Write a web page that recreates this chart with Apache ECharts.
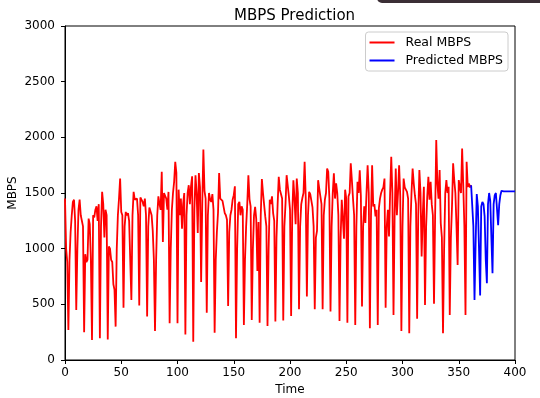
<!DOCTYPE html>
<html>
<head>
<meta charset="utf-8">
<script src="https://cdn.jsdelivr.net/npm/echarts@6/dist/echarts.min.js"></script>
<style>
  html, body { margin: 0; padding: 0; background: #fff; }
  #chart { width: 540px; height: 398px; }
</style>
</head>
<body>
<div id="chart"></div>
<script>
// daily values, day 0 onwards
var realMbps = [
  1450, 1000, 880, 270, 900, 1150, 1300, 1420, 1440, 1250, 450,
  1000, 1350, 1440, 1300, 1290, 1200, 250,
  950, 880, 900, 1270, 1220, 900, 180,
  1300, 1280, 1350, 1380, 1250, 1400, 195,
  1200, 1510, 1400, 1100, 1350, 1300, 185,
  1020, 1000, 900, 880, 680, 630, 300,
  1000, 1300, 1450, 1630, 1330, 1300, 470,
  1200, 1330, 1300, 1320, 1250, 1240, 540,
  1300, 1510, 1440, 1430, 1450, 1300, 490,
  1460, 1470, 1420, 1380, 1450, 1300, 390,
  1200, 1370, 1360, 1300, 1160, 900, 260,
  900, 1300, 1470, 1400, 1350, 1690, 1060,
  1500, 1500, 1450, 1350, 1510, 330,
  1000, 1350, 1500, 1600, 1780, 1680, 330,
  1530, 1300, 1450, 1180, 1400, 1500, 230,
  1300, 1500, 1570, 1400, 1560, 1650, 165,
  1350, 1660, 1500, 1140, 1680, 1550, 700,
  1400, 1890, 1520, 1450, 425,
  1300, 1500, 1440, 1420, 1490, 1350, 245,
  900, 1150, 1320, 1680, 1450, 1440, 1430, 1440, 1320, 1300, 1260, 485,
  1150, 1300, 1350, 1440, 1480, 1560, 195,
  1000, 1400, 1420, 1300, 1380, 1350, 315,
  900, 1200, 1400, 1660, 1445, 1380, 360,
  1000, 1300, 1375, 1265, 800, 1240, 335,
  1300, 1625, 1500, 1510, 1290, 1200, 305,
  1000, 1440, 1400, 1470, 1320, 1250, 345,
  1100, 1400, 1645, 1530, 1540, 1450, 355,
  1200, 1400, 1660, 1645, 1470, 1350, 395,
  1300, 1615, 1450, 1220, 1630, 1500, 455,
  1200, 1400, 1455, 1500, 1780, 1450, 570,
  1300, 1510, 1490, 1480, 1370, 1200, 455,
  1100, 1160, 1615, 1540, 1540, 1400, 455,
  1300, 1440, 1500, 1720, 1690, 1450, 435,
  1200, 1500, 1676, 1450, 1586, 1500, 1300, 350,
  1100, 1440, 1455, 1090, 1530, 1450, 335,
  1470, 1500, 1766, 1616, 1450, 1300, 315,
  1200, 1600, 1500, 1705, 1470, 480,
  1200, 1380, 1230, 1500, 1750, 1500, 285,
  1300, 1750, 1380, 1400, 1290, 1350, 315,
  1365, 1450, 1500, 1530, 1550, 1630, 470,
  1200, 1350, 1110, 1500, 1826, 1500, 405,
  1300, 1720, 1300, 1500, 1750, 1470, 260,
  1200, 1630, 1550, 1530, 1510, 1450, 240,
  1200, 1500, 1720, 1586, 1480, 1400, 370,
  1300, 1706, 1500, 930, 1300, 1555, 495,
  1200, 1470, 1645, 1440, 1600, 1400, 1300, 505,
  1300, 1976, 1586, 1450, 1706, 1230, 1100, 240,
  1000, 1500, 1616, 1500, 1555, 405,
  1100, 1380, 1766, 1616, 1500, 1200, 853,
  1616, 1555, 1500, 1900, 1570, 1200, 404,
  1781, 1555, 1586, 1550, 1570
];
var predStartDay = 361;
var predictedMbps = [
  1570, 1580, 1200, 540, 1050, 1490, 1380, 1000, 580, 1380,
  1420, 1400, 1290, 900, 690, 1400, 1500, 1430, 1100, 780,
  1400, 1480, 1500, 1510, 1210, 1400, 1480, 1520, 1515, 1515,
  1515, 1515, 1515, 1515, 1515, 1515, 1515, 1515, 1515, 1515
];
var xTicks = [0, 400, 50];
var yTicks = [0, 3000, 500];
var seriesNames = ['Real MBPS', 'Predicted MBPS'];

var chart = echarts.init(document.getElementById('chart'));
var font = 'DejaVu Sans';

var realData = realMbps.map(function (v, i) { return [i, v]; });
var predData = predictedMbps.map(function (v, i) { return [predStartDay + i, v]; });

chart.setOption({
  animation: false,
  backgroundColor: '#fff',
  textStyle: { fontFamily: font, color: '#000' },
  title: {
    text: 'MBPS Prediction',
    left: 229,
    top: 4,
    textStyle: { fontFamily: font, fontSize: 15, fontWeight: 'normal', color: '#000' }
  },
  graphic: [{
    type: 'rect',
    shape: { x: 377, y: -12, width: 175, height: 15, r: 5 },
    style: { fill: '#3b2e35' }
  }],
  legend: {
    orient: 'vertical',
    right: 32,
    top: 32,
    padding: [4, 5, 4, 4],
    itemGap: 5,
    itemWidth: 25,
    itemHeight: 2,
    icon: 'rect',
    borderColor: '#cccccc',
    borderWidth: 1,
    borderRadius: 3,
    backgroundColor: 'rgba(255,255,255,0.8)',
    textStyle: { fontFamily: font, fontSize: 12.5, color: '#000', padding: [0, 0, 0, 6] },
    data: seriesNames
  },
  grid: {
    left: 65, right: 25, top: 26, bottom: 38,
    containLabel: false,
    outerBoundsMode: 'none',
    show: true, borderColor: '#000', borderWidth: 1, backgroundColor: 'transparent'
  },
  xAxis: {
    type: 'value',
    min: xTicks[0], max: xTicks[1], interval: xTicks[2],
    name: 'Time',
    nameLocation: 'middle',
    nameGap: 24,
    nameMoveOverlap: false,
    nameTextStyle: { fontFamily: font, fontSize: 12, color: '#000' },
    axisLine: { lineStyle: { color: '#000', width: 1 } },
    axisTick: { show: true, length: 4, lineStyle: { color: '#000' } },
    axisLabel: { fontFamily: font, fontSize: 12, color: '#000', margin: 7,
      formatter: function (v) { return String(v); } },
    splitLine: { show: false }
  },
  yAxis: {
    type: 'value',
    min: yTicks[0], max: yTicks[1], interval: yTicks[2],
    name: 'MBPS',
    nameLocation: 'middle',
    nameGap: 46,
    nameMoveOverlap: false,
    nameTextStyle: { fontFamily: font, fontSize: 12, color: '#000' },
    axisLine: { show: true, lineStyle: { color: '#000', width: 1 } },
    axisTick: { show: true, length: 4, lineStyle: { color: '#000' } },
    axisLabel: { fontFamily: font, fontSize: 12, color: '#000', margin: 10,
      formatter: function (v) { return String(v); } },
    splitLine: { show: false }
  },
  series: [
    {
      name: seriesNames[0],
      type: 'line',
      data: realData,
      showSymbol: false,
      symbol: 'none',
      itemStyle: { color: '#ff0000' },
      lineStyle: { color: '#ff0000', width: 1.8 }
    },
    {
      name: seriesNames[1],
      type: 'line',
      data: predData,
      showSymbol: false,
      symbol: 'none',
      itemStyle: { color: '#0000ff' },
      lineStyle: { color: '#0000ff', width: 1.8 }
    }
  ]
});
</script>
</body>
</html>
